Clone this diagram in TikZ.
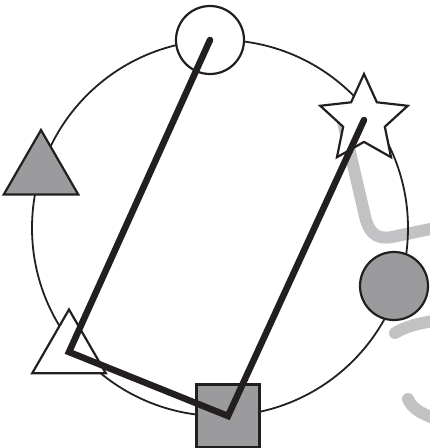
\documentclass[tikz,border=0pt]{standalone}
\usetikzlibrary{shapes.geometric}
\definecolor{ink}{HTML}{231F20}
\definecolor{shade}{HTML}{9B9B9D}
\definecolor{faint}{HTML}{C2C2C4}
\begin{document}
\begin{tikzpicture}[x=1pt,y=-1pt,
  shapebox/.style={draw=ink, line width=2.2pt, inner sep=0pt, outer sep=0pt},
  ringstyle/.style={draw=ink, line width=1.8pt, circle, inner sep=0pt, minimum size=376pt},
  ghost/.style={draw=faint, line width=12pt, line cap=round, line join=round},
  route/.style={draw=ink, line width=6.5pt, line cap=round, line join=miter}]
\useasboundingbox (0,0) rectangle (430,448);
% faint strokes
\draw[ghost] (343,122) -- (364,212) .. controls (368,232) and (375,240) .. (392,237) -- (440,227);
\draw[ghost] (395,333) .. controls (405,327) and (418,323) .. (440,320);
\draw[ghost] (408,399) .. controls (412,408) and (420,414) .. (440,420);
% ring
\node[ringstyle] (ring) at (220,228) {};
% shapes
\node[shapebox, circle, fill=white, minimum size=68pt] (topc) at (210,40) {};
\node[shapebox, star, star points=5, star point ratio=2.1, minimum size=92pt, fill=white] (star) at (364,120) {};
\node[shapebox, circle, fill=shade, minimum size=68pt] (gcirc) at (394,286) {};
\node[shapebox, regular polygon, regular polygon sides=3, minimum size=86pt, fill=shade] (gtri) at (41,173) {};
\node[shapebox, regular polygon, regular polygon sides=3, minimum size=85pt, fill=white] (wtri) at (69,352) {};
\node[shapebox, rectangle, minimum size=63pt, fill=shade] (sq) at (228,416) {};
% route
\draw[route] (topc.center) -- (wtri.center) -- (sq.center) -- (star.center);
\end{tikzpicture}
\end{document}
